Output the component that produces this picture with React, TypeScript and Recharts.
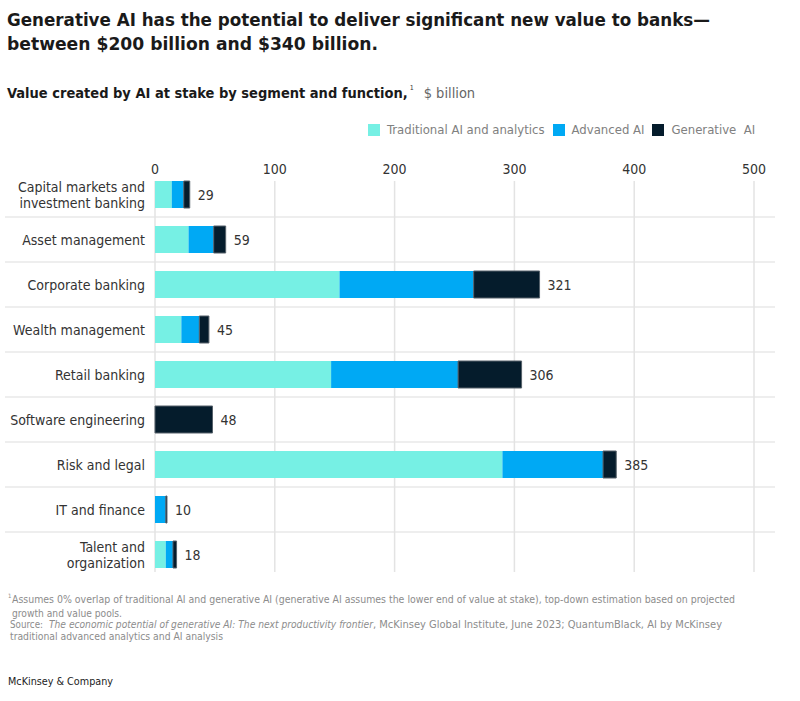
import { Bar, BarChart, CartesianGrid, LabelList, XAxis, YAxis } from "recharts";

const categoryLines = [
  ["Capital markets and", "investment banking"],
  ["Asset management"],
  ["Corporate banking"],
  ["Wealth management"],
  ["Retail banking"],
  ["Software engineering"],
  ["Risk and legal"],
  ["IT and finance"],
  ["Talent and", "organization"]
];
const categories = categoryLines.map((l) => l.join(" "));
const traditional = [14, 28, 154, 22, 147, 0, 290, 0, 9];
const advanced = [10, 21, 112, 15, 106, 0, 84, 9, 6];
const generative = [5, 10, 55, 8, 53, 48, 11, 1, 3];
const totals = [29, 59, 321, 45, 306, 48, 385, 10, 18];
const xTicks = [0, 100, 200, 300, 400, 500];

const seriesNames = ["Traditional AI and analytics", "Advanced AI", "Generative  AI"];
const colors = ["#76F0E4", "#00A9F4", "#051C2C"];

const titleLines = [
  "Generative AI has the potential to deliver significant new value to banks—",
  "between $200 billion and $340 billion."
];
const subtitle = "Value created by AI at stake by segment and function,";
const unit = "$ billion";
const footnote = [
  "Assumes 0% overlap of traditional AI and generative AI (generative AI assumes the lower end of value at stake), top-down estimation based on projected",
  "growth and value pools."
];
const sourceParts = [
  "Source:",
  "The economic potential of generative AI: The next productivity frontier",
  ", McKinsey Global Institute, June 2023; QuantumBlack, AI by McKinsey"
];
const sourceTail = "traditional advanced analytics and AI analysis";
const brand = "McKinsey & Company";

const FONT = '"DejaVu Sans Condensed", "Liberation Sans", Roboto, sans-serif';

const data = categories.map((name, i) => ({
  name,
  traditional: traditional[i],
  advanced: advanced[i],
  generative: generative[i],
  total: totals[i]
}));

function CategoryTick({ y, index }: any) {
  const lines = categoryLines[index] || [];
  const start = -((lines.length - 1) * 16) / 2;
  return (
    <text x={145} y={y} textAnchor="end" fontSize={14} fill="#333" fontFamily={FONT}>
      {lines.map((line, i) => (
        <tspan key={i} x={145} dy={i === 0 ? start + 5 : 16}>
          {line}
        </tspan>
      ))}
    </text>
  );
}

function ValueTick({ x, y, payload }: any) {
  return (
    <text x={x} y={y + 10} textAnchor="middle" fontSize={14} fill="#333" fontFamily={FONT}>
      {payload.value}
    </text>
  );
}

function TotalLabel({ x, y, width, height, value }: any) {
  return (
    <text x={x + width + 8} y={y + height / 2 + 5} fontSize={14} fill="#333" fontFamily={FONT}>
      {value}
    </text>
  );
}

// squeezes a run of text into the width it takes in the reference
function Fit({ x, y, w, size, children, weight = 400, fill = "#111", italic = false }: any) {
  return (
    <text
      x={x}
      y={y}
      textLength={w}
      lengthAdjust="spacingAndGlyphs"
      fontSize={size}
      fontWeight={weight}
      fontStyle={italic ? "italic" : "normal"}
      fill={fill}
      fontFamily={FONT}
    >
      {children}
    </text>
  );
}

export default function App() {
  const note = "#8c8c8c";
  return (
    <div style={{ position: "relative", width: 800, height: 701, background: "#fff", fontFamily: FONT }}>
      <style>{"body{margin:0}"}</style>

      <div
        style={{
          position: "absolute",
          left: 368,
          top: 122,
          display: "flex",
          alignItems: "center",
          fontSize: 13,
          color: "#808080"
        }}
      >
        {seriesNames.map((s, i) => (
          <div key={s} style={{ display: "flex", alignItems: "center", marginRight: 8 }}>
            <span style={{ width: 12, height: 12, background: colors[i], marginRight: 7, display: "inline-block" }} />
            <span style={{ whiteSpace: "pre" }}>{s}</span>
          </div>
        ))}
      </div>

      <div style={{ position: "absolute", left: 0, top: 0 }}>
        <BarChart
          width={800}
          height={590}
          data={data}
          layout="vertical"
          barSize={27}
          margin={{ top: 152, right: 46, bottom: 13, left: 0 }}
        >
          <CartesianGrid
            stroke="#e6e6e6"
            horizontalCoordinatesGenerator={({ offset }: any) =>
              categories.slice(1).map((_, i) => offset.top + ((i + 1) * offset.height) / categories.length)
            }
            horizontal={(props: any) => (
              <line
                key={`h-${props.index}`}
                x1={5}
                x2={775}
                y1={props.y1}
                y2={props.y2}
                stroke="#e8e8e8"
                strokeWidth={1.5}
              />
            )}
            vertical={(props: any) => (
              <line
                key={`v-${props.index}`}
                x1={props.x1}
                x2={props.x2}
                y1={props.y1 + 9}
                y2={props.y2 - 5}
                stroke="#e3e3e3"
                strokeWidth={1.5}
              />
            )}
          />
          <XAxis
            type="number"
            orientation="top"
            domain={[0, 500]}
            ticks={xTicks}
            height={20}
            axisLine={false}
            tickLine={false}
            tick={<ValueTick />}
            interval={0}
          />
          <YAxis
            type="category"
            dataKey="name"
            width={155}
            axisLine={false}
            tickLine={false}
            tick={<CategoryTick />}
            interval={0}
          />
          <Bar dataKey="traditional" stackId="a" fill={colors[0]} isAnimationActive={false} />
          <Bar dataKey="advanced" stackId="a" fill={colors[1]} isAnimationActive={false} />
          <Bar
            dataKey="generative"
            stackId="a"
            fill={colors[2]}
            stroke="#56616a"
            strokeWidth={1}
            isAnimationActive={false}
          >
            <LabelList dataKey="total" content={<TotalLabel />} />
          </Bar>
        </BarChart>
      </div>

      <svg
        width={800}
        height={701}
        style={{ position: "absolute", left: 0, top: 0, pointerEvents: "none" }}
      >
        <Fit x={7} y={26} w={703} size={18} weight={700} fill="#1a1a1a">{titleLines[0]}</Fit>
        <Fit x={7} y={50} w={371} size={18} weight={700} fill="#1a1a1a">{titleLines[1]}</Fit>

        <text x={7} y={98} fontSize={14.5} fontWeight={700} fill="#1a1a1a" fontFamily={FONT}>
          <tspan>{subtitle}</tspan>
          <tspan dx={2} dy={-8} fontSize={7} fontWeight={400} fill="#333">1</tspan>
          <tspan dx={10} dy={8} fontWeight={400} fill="#666">{unit}</tspan>
        </text>

        <text x={8} y={603} fontSize={10} fill={note} fontFamily={FONT}>
          <tspan dy={-5} fontSize={6}>1</tspan>
          <tspan x={12} dy={5} textLength={723} lengthAdjust="spacingAndGlyphs">{footnote[0]}</tspan>
        </text>
        <Fit x={12} y={617} w={110} size={10} fill={note}>{footnote[1]}</Fit>
        <Fit x={10} y={628} w={33} size={10} fill={note}>{sourceParts[0]}</Fit>
        <Fit x={49} y={628} w={324} size={10} fill={note} italic>{sourceParts[1]}</Fit>
        <Fit x={373} y={628} w={349} size={10} fill={note}>{sourceParts[2]}</Fit>
        <Fit x={10} y={640} w={213} size={10} fill={note}>{sourceTail}</Fit>

        <Fit x={8} y={685} w={105} size={11} weight={400} fill="#222">{brand}</Fit>
      </svg>
    </div>
  );
}
